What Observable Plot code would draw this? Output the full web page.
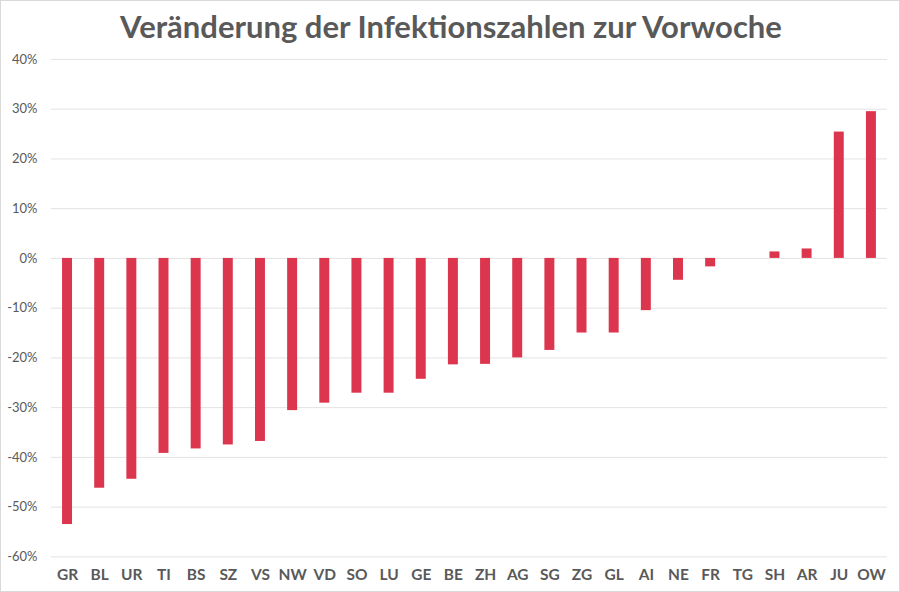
<!DOCTYPE html>
<html>
<head>
<meta charset="utf-8">
<script src="https://cdn.jsdelivr.net/npm/d3@7"></script>
<script src="https://cdn.jsdelivr.net/npm/@observablehq/plot@0.6"></script>
<style>
  html, body { margin: 0; padding: 0; background: #fff; }
  #wrap { position: relative; width: 900px; height: 592px; box-sizing: border-box; border: 1px solid #d9d9d9; overflow: hidden; }
  #title { position: absolute; top: 6px; left: 0; width: 900px; text-align: center; font-family: Lato, sans-serif; font-weight: 700; font-size: 31px; color: #595959; margin: 0; }
  #chart { position: absolute; top: -1px; left: -1px; }
</style>
</head>
<body>
<div id="wrap">
  <div id="chart"></div>
  <h1 id="title">Veränderung der Infektionszahlen zur Vorwoche</h1>
</div>
<script>
const categories = ["GR","BL","UR","TI","BS","SZ","VS","NW","VD","SO","LU","GE","BE","ZH","AG","SG","ZG","GL","AI","NE","FR","TG","SH","AR","JU","OW"];
const values = [-53.5,-46.2,-44.4,-39.2,-38.3,-37.5,-36.8,-30.6,-29.1,-27.1,-27.1,-24.3,-21.4,-21.3,-20.0,-18.5,-15.0,-15.0,-10.5,-4.4,-1.7,0,1.3,1.9,25.4,29.5];
const yTicks = [40,30,20,10,0,-10,-20,-30,-40,-50,-60];

const data = categories.map((c, i) => ({canton: c, value: values[i]}));

const chart = Plot.plot({
  width: 900,
  height: 592,
  marginTop: 59,
  marginBottom: 35,
  marginLeft: 51,
  marginRight: 12,
  style: {fontFamily: "Lato, sans-serif", color: "#595959", background: "transparent"},
  x: {domain: categories, paddingInner: 0.69, paddingOuter: 0.345, align: 0.5, round: false, label: null},
  y: {domain: [-60, 40], label: null},
  marks: [
    Plot.ruleY(yTicks, {stroke: "#e3e3e3", strokeWidth: 1}),
    Plot.barY(data, {x: "canton", y: "value", fill: "#dc364f"}),
    Plot.axisY({ticks: yTicks, tickSize: 0, tickPadding: 14, tickFormat: d => `${d}%`, fontSize: 13, label: null}),
    Plot.axisX({tickSize: 0, tickPadding: 12, fontSize: 15.5, fontWeight: "bold", label: null})
  ]
});
document.getElementById("chart").appendChild(chart);
</script>
</body>
</html>
